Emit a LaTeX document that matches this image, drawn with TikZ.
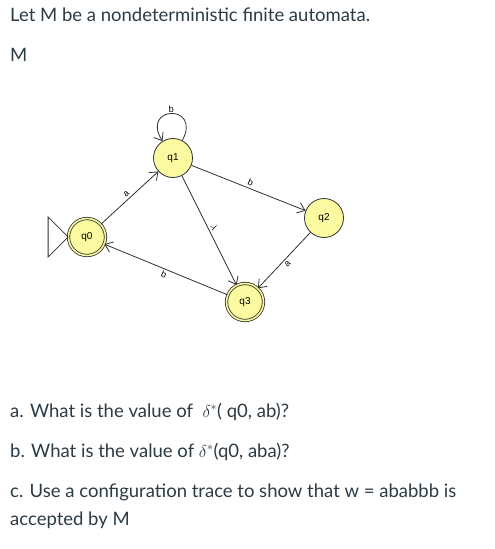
\documentclass[tikz,border=0pt]{standalone}
\usepackage{fontspec}
\setmainfont{Lato}
\newfontfamily\jflapfont{Liberation Sans}
\usetikzlibrary{arrows.meta}
\definecolor{canvastext}{RGB}{45,59,69}
\definecolor{etatjaune}{RGB}{252,250,160}
\definecolor{trait}{RGB}{50,50,50}
\tikzset{
  >={Straight Barb[length=7pt,width=11pt]},
  etat/.style={circle, draw=trait, fill=etatjaune, line width=0.8pt, minimum size=39pt,
    inner sep=0pt, font=\jflapfont\fontsize{10}{10}\selectfont},
  final/.style={etat, double=etatjaune, double distance=1.6pt, minimum size=37pt},
  fleche/.style={->, draw=trait, line width=0.8pt},
  etiquette/.style={font=\jflapfont\fontsize{9}{9}\selectfont, sloped, inner sep=2pt},
  enonce/.style={anchor=base west, text=canvastext, font=\fontsize{18.5}{22}\selectfont, inner sep=0pt},
}
\begin{document}
\begin{tikzpicture}[x=1pt, y=1pt]
    \useasboundingbox[fill=white] (0,0) rectangle (495,-549);
    % Enonce
    \node[enonce] (titre) at (10,-21) {Let M be a nondeterministic finite automata.};
    \node[enonce] (nomM)  at (10,-61) {M};
    % Etats
    \node[final] (q0) at (87,-237)  {q0};
    \node[etat]  (q1) at (173,-158) {q1};
    \node[etat]  (q2) at (324,-218) {q2};
    \node[final] (q3) at (245,-302) {q3};
    % Etat initial
    \draw[trait, line width=0.8pt] (q0.west) -- ++(-20,20) -- ++(0,-40) -- cycle;
    % Transitions
    \draw[fleche] (q0) -- node[etiquette, above] {a} (q1);
    \draw[fleche] (q1) -- node[etiquette, above] {b} (q2);
    \draw[fleche] (q1) -- node[etiquette, above] {$\lambda$} (q3);
    \draw[fleche] (q2) -- node[etiquette, below] {a} (q3);
    \draw[fleche] (q3) -- node[etiquette, below] {b} (q0);
    \draw[fleche] (q1) to[out=62, in=122, min distance=42pt] node[etiquette, above, inner sep=1pt] {b} (q1);
    % Questions
    \node[enonce] (qa) at (10,-417) {a. What is the value of \ $\delta^{*}$( q0, ab)?};
    \node[enonce] (qb) at (10,-457) {b. What is the value of $\delta^{*}$(q0, aba)?};
    \node[enonce] (qc) at (10,-497) {c. Use a configuration trace to show that w = ababbb is};
    \node[enonce] (qd) at (10,-525) {accepted by M};
\end{tikzpicture}
\end{document}
